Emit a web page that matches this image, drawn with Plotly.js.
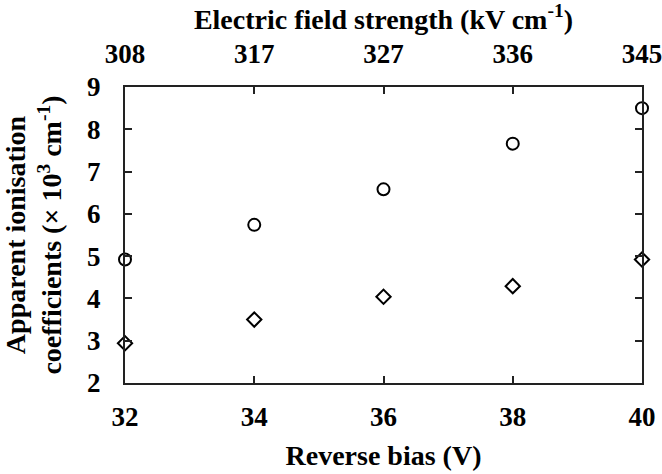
<!DOCTYPE html>
<html>
<head>
<meta charset="utf-8">
<script src="https://cdn.plot.ly/plotly-3.0.1.min.js"></script>
<style>html,body{margin:0;padding:0;background:#fff;}#chart{width:662px;height:474px;}</style>
</head>
<body>
<div id="chart"></div>
<script>
// Data
const reverseBias = [32, 34, 36, 38, 40];                 // V (bottom axis)
const fieldStrengthLabels = ["308", "317", "327", "336", "345"]; // kV cm-1 (top axis)
const seriesCircle = [4.92, 5.74, 6.58, 7.66, 8.5];       // × 10^3 cm^-1
const seriesDiamond = [2.94, 3.5, 4.04, 4.29, 4.92];      // × 10^3 cm^-1
const yTicks = [2, 3, 4, 5, 6, 7, 8, 9];

const FONT = "Liberation Serif, Times New Roman, serif";

const traces = [
  {
    x: reverseBias, y: seriesCircle, type: "scatter", mode: "markers",
    marker: {symbol: "circle-open", size: 12, color: "#000", line: {width: 2, color: "#000"}},
    cliponaxis: false, showlegend: false, hoverinfo: "x+y"
  },
  {
    x: reverseBias, y: seriesDiamond, type: "scatter", mode: "markers",
    marker: {symbol: "diamond-open", size: 11, color: "#000", line: {width: 2, color: "#000"}},
    cliponaxis: false, showlegend: false, hoverinfo: "x+y"
  },
  {
    x: reverseBias, y: seriesCircle, xaxis: "x2", type: "scatter", mode: "markers",
    marker: {opacity: 0}, showlegend: false, hoverinfo: "skip"
  }
];

const tickFont = {family: FONT, size: 27, color: "#000", weight: "bold"};
const titleFont = {family: FONT, size: 28, color: "#000", weight: "bold"};

const layout = {
  width: 662, height: 474,
  margin: {l: 125, r: 20, t: 87, b: 91},
  paper_bgcolor: "#fff", plot_bgcolor: "#fff",
  showlegend: false,
  xaxis: {
    range: [32, 40], tickvals: reverseBias, ticktext: reverseBias.map(String),
    showgrid: false, zeroline: false,
    showline: true, linecolor: "#222", linewidth: 2, mirror: "ticks",
    ticks: "inside", ticklen: 7, tickwidth: 2, tickcolor: "#222",
    tickfont: tickFont, ticklabelstandoff: 9, ticklabeloverflow: "allow",
    title: {text: "Reverse bias (V)", font: titleFont, standoff: 14}
  },
  xaxis2: {
    overlaying: "x", side: "top", anchor: "y",
    range: [32, 40], tickvals: reverseBias, ticktext: fieldStrengthLabels,
    showgrid: false, zeroline: false, showline: false, ticks: "",
    tickfont: tickFont, ticklabelstandoff: 18, ticklabeloverflow: "allow",
    title: {text: "Electric field strength (kV cm<sup>-1</sup>)", font: titleFont, standoff: 4}
  },
  yaxis: {
    range: [2, 9], tickvals: yTicks,
    showgrid: false, zeroline: false,
    showline: true, linecolor: "#222", linewidth: 2, mirror: "ticks",
    ticks: "inside", ticklen: 7, tickwidth: 2, tickcolor: "#222",
    tickfont: tickFont, ticklabelstandoff: 17,
    title: {text: "Apparent ionisation<br>coefficients (× 10<sup>3</sup> cm<sup>-1</sup>)", font: titleFont, standoff: 19}
  }
};

Plotly.newPlot("chart", traces, layout, {displayModeBar: false, staticPlot: true});
</script>
</body>
</html>
